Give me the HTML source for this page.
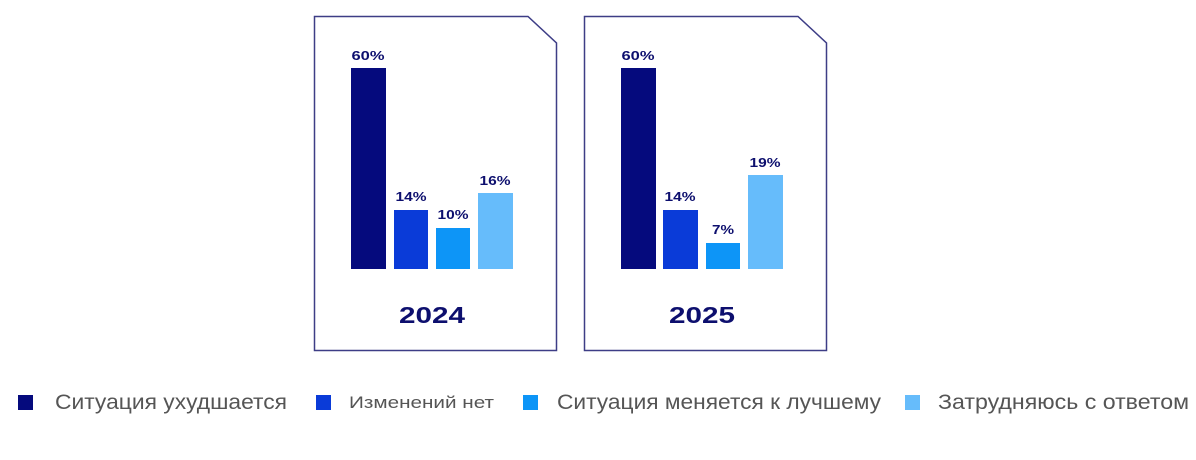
<!DOCTYPE html>
<html><head><meta charset="utf-8"><style>
body{margin:0;width:1196px;height:455px;background:#fff;overflow:hidden;font-family:"Liberation Sans",sans-serif}
</style></head><body>
<svg width="1196" height="455" xmlns="http://www.w3.org/2000/svg">
<g fill="none" stroke="#3d3d86" stroke-width="1.5">
<path d="M314.5 16.5 H528 L556.5 43 V350.5 H314.5 Z"/>
<path d="M584.5 16.5 H798 L826.5 43 V350.5 H584.5 Z"/>
</g>
<g font-family="Liberation Sans, sans-serif" font-weight="bold" fill="#0d0f6e" text-anchor="middle">
<rect x="351" y="68" width="35" height="201" fill="#050a7d"/>
<rect x="394" y="210" width="34" height="59" fill="#0a3bd8"/>
<rect x="436" y="228" width="34" height="41" fill="#0d95f7"/>
<rect x="478" y="193" width="35" height="76" fill="#66bcfb"/>
<text x="368" y="60" font-size="13" textLength="33" lengthAdjust="spacingAndGlyphs">60%</text>
<text x="411" y="201" font-size="13" textLength="31" lengthAdjust="spacingAndGlyphs">14%</text>
<text x="453" y="219" font-size="13" textLength="31" lengthAdjust="spacingAndGlyphs">10%</text>
<text x="495" y="185" font-size="13" textLength="31" lengthAdjust="spacingAndGlyphs">16%</text>
<text x="432" y="323" font-size="23" textLength="66" lengthAdjust="spacingAndGlyphs">2024</text>
<rect x="621" y="68" width="35" height="201" fill="#050a7d"/>
<rect x="663" y="210" width="35" height="59" fill="#0a3bd8"/>
<rect x="706" y="243" width="34" height="26" fill="#0d95f7"/>
<rect x="748" y="175" width="35" height="94" fill="#66bcfb"/>
<text x="638" y="60" font-size="13" textLength="33" lengthAdjust="spacingAndGlyphs">60%</text>
<text x="680" y="201" font-size="13" textLength="31" lengthAdjust="spacingAndGlyphs">14%</text>
<text x="723" y="234" font-size="13" textLength="22" lengthAdjust="spacingAndGlyphs">7%</text>
<text x="765" y="167" font-size="13" textLength="31" lengthAdjust="spacingAndGlyphs">19%</text>
<text x="702" y="323" font-size="23" textLength="66" lengthAdjust="spacingAndGlyphs">2025</text>
</g>
<g font-family="Liberation Sans, sans-serif" fill="#555">
<rect x="18" y="395" width="15" height="15" fill="#050a7d"/>
<text x="55" y="409" font-size="21" textLength="232" lengthAdjust="spacingAndGlyphs">Ситуация ухудшается</text>
<rect x="316" y="395" width="15" height="15" fill="#0a3bd8"/>
<text x="349" y="408" font-size="17" textLength="145" lengthAdjust="spacingAndGlyphs">Изменений нет</text>
<rect x="523" y="395" width="15" height="15" fill="#0d95f7"/>
<text x="557" y="409" font-size="21" textLength="324" lengthAdjust="spacingAndGlyphs">Ситуация меняется к лучшему</text>
<rect x="905" y="395" width="15" height="15" fill="#66bcfb"/>
<text x="938" y="409" font-size="21" textLength="251" lengthAdjust="spacingAndGlyphs">Затрудняюсь с ответом</text>
</g>
</svg>
</body></html>
